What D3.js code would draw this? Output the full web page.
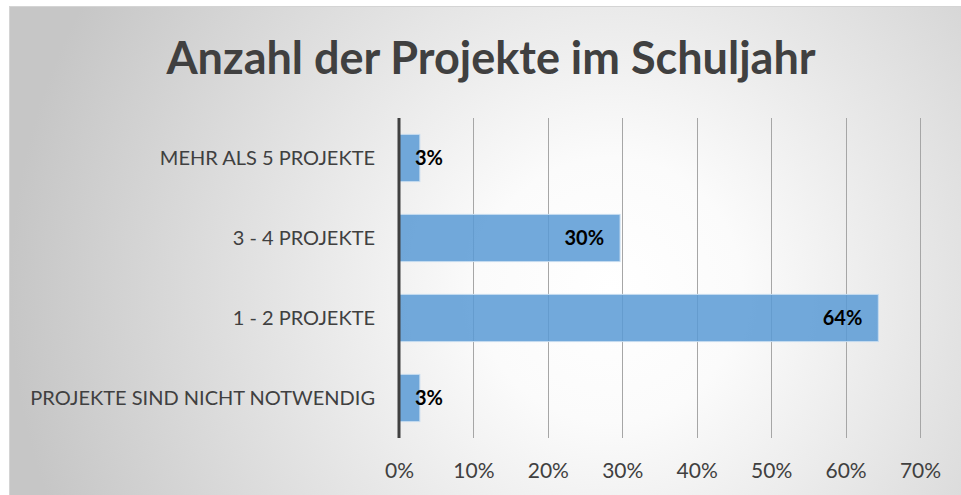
<!DOCTYPE html>
<html>
<head>
<meta charset="utf-8">
<script src="https://cdn.jsdelivr.net/npm/d3@7"></script>
<style>
  body { margin: 0; background: #ffffff; }
  svg text { font-family: Lato, "Open Sans", sans-serif; }
</style>
</head>
<body>
<svg id="chart" width="961" height="495"></svg>
<script>
// Daten:
var categories = ["MEHR ALS 5 PROJEKTE", "3 - 4 PROJEKTE", "1 - 2 PROJEKTE", "PROJEKTE SIND NICHT NOTWENDIG"];
var values = [0.028, 0.297, 0.644, 0.028];
var tickValues = [0, 0.1, 0.2, 0.3, 0.4, 0.5, 0.6, 0.7];
var title = "Anzahl der Projekte im Schuljahr";

function drawChart() {

    var svg = d3.select("#chart");
    var width = 961, height = 495;

    // Hintergrund mit radialem Verlauf
    var defs = svg.append("defs");
    var grad = defs.append("radialGradient")
        .attr("id", "bg")
        .attr("gradientUnits", "userSpaceOnUse")
        .attr("cx", 610).attr("cy", 290).attr("r", 600);
    grad.append("stop").attr("offset", "0%").attr("stop-color", "#ffffff");
    grad.append("stop").attr("offset", "22%").attr("stop-color", "#fbfbfb");
    grad.append("stop").attr("offset", "100%").attr("stop-color", "#c6c6c6");

    svg.append("rect")
        .attr("x", 9.5).attr("y", 6.5)
        .attr("width", width).attr("height", height)
        .attr("fill", "url(#bg)")
        .attr("stroke", "#d4d4d4");

    // Layout
    var plotLeft = 399, plotRight = 920, plotTop = 118, plotBottom = 438;

    var xScale = d3.scaleLinear()
        .domain([0, 0.7])
        .range([plotLeft, plotRight]);

    var yScale = d3.scaleBand()
        .domain(categories)
        .range([plotTop, plotBottom])
        .paddingInner(0.41)
        .paddingOuter(0.205);

    // Gitterlinien
    svg.append("g")
        .selectAll("line")
        .data(tickValues.slice(1))
        .enter()
        .append("line")
        .attr("x1", function (d) { return Math.round(xScale(d)) + 0.5; })
        .attr("x2", function (d) { return Math.round(xScale(d)) + 0.5; })
        .attr("y1", plotTop)
        .attr("y2", plotBottom)
        .attr("stroke", "#a6a6a6")
        .attr("stroke-width", 1);

    // Balken
    svg.append("g")
        .selectAll("rect")
        .data(values)
        .enter()
        .append("rect")
        .attr("x", xScale(0))
        .attr("y", function (d, i) { return yScale(categories[i]); })
        .attr("width", function (d) { return xScale(d) - xScale(0); })
        .attr("height", yScale.bandwidth())
        .attr("fill", "#5b9bd5")
        .attr("fill-opacity", 0.86)
        .attr("stroke", "#c6dcf0")
        .attr("stroke-width", 1);

    // Achse (0-Linie)
    svg.append("line")
        .attr("x1", xScale(0)).attr("x2", xScale(0))
        .attr("y1", plotTop).attr("y2", plotBottom)
        .attr("stroke", "#404040")
        .attr("stroke-width", 3);

    // x-Achse Beschriftung
    var xAxis = d3.axisBottom(xScale)
        .tickValues(tickValues)
        .tickFormat(d3.format(".0%"))
        .tickSize(0)
        .tickPadding(0);

    var gx = svg.append("g")
        .attr("transform", "translate(0," + 478 + ")")
        .call(xAxis);
    gx.select(".domain").remove();
    gx.selectAll("text")
        .attr("y", 0)
        .attr("dy", 0)
        .attr("fill", "#404040")
        .style("font-size", "21px");

    // y-Achse Beschriftung
    var yAxis = d3.axisLeft(yScale).tickSize(0).tickPadding(24);
    var gy = svg.append("g")
        .attr("transform", "translate(" + plotLeft + ",0)")
        .call(yAxis);
    gy.select(".domain").remove();
    gy.selectAll("text")
        .attr("fill", "#404040")
        .attr("dy", "0.35em")
        .style("font-size", "20px");

    // Werte in den Balken
    var fmt = d3.format(".0%");
    svg.append("g")
        .selectAll("text")
        .data(values)
        .enter()
        .append("text")
        .attr("y", function (d, i) { return yScale(categories[i]) + yScale.bandwidth() / 2; })
        .attr("dy", "0.35em")
        .attr("text-anchor", "end")
        .attr("font-weight", "bold")
        .attr("fill", "#000000")
        .style("font-size", "20px")
        .text(function (d) { return fmt(d); })
        .attr("x", function (d) {
            var w = this.getComputedTextLength();
            return Math.max(xScale(d) - 16, xScale(0) + 16 + w);
        });

    // Titel
    svg.append("text")
        .attr("x", 491)
        .attr("y", 74)
        .attr("text-anchor", "middle")
        .attr("font-weight", "bold")
        .attr("fill", "#404040")
        .style("font-size", "45px")
        .text(title);
}

drawChart();
</script>
</body>
</html>
